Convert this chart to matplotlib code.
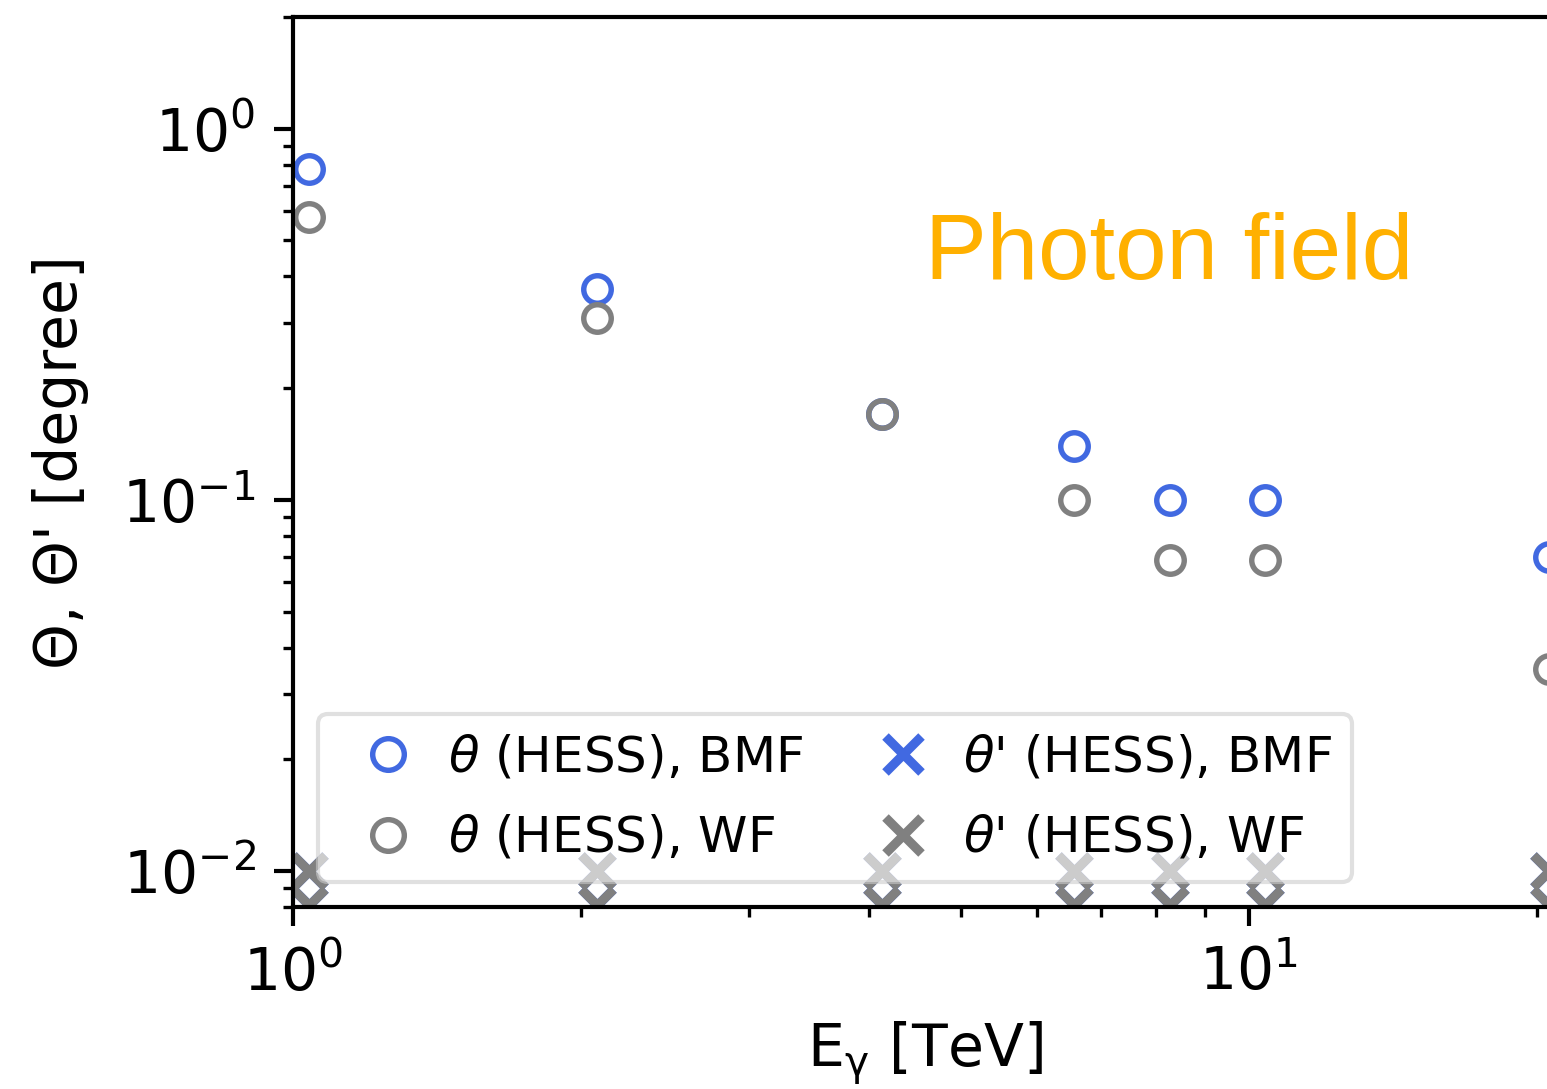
import matplotlib
matplotlib.use("Agg")
import matplotlib.pyplot as plt

# photon energies (TeV)
energy = [1.04, 2.08, 4.13, 6.56, 8.27, 10.4, 20.6]

# opening angles (degree)
theta_bmf = [0.78, 0.37, 0.17, 0.14, 0.10, 0.10, 0.070]
theta_wf = [0.58, 0.31, 0.17, 0.10, 0.069, 0.069, 0.035]

# primed angles, mostly below the plotted range
thetap_bmf = [0.010, 0.010, 0.010, 0.010, 0.010, 0.010, 0.010]
thetap_wf = [0.010, 0.010, 0.010, 0.010, 0.010, 0.010, 0.010]
thetap_bmf_low = [0.0081, 0.0081, 0.0081, 0.0081, 0.0081, 0.0081, 0.0081]
thetap_wf_low = [0.0081, 0.0081, 0.0081, 0.0081, 0.0081, 0.0081, 0.0081]

BLUE = "royalblue"
GRAY = "gray"

fig = plt.figure(figsize=(1547 / 300, 1089 / 300), dpi=300)
ax = fig.add_axes([293 / 1547, 182 / 1089, 1264 / 1547, 890 / 1089])

circ = dict(ls="none", marker="o", mfc="none", ms=6.6, mew=1.3)
cross = dict(ls="none", marker="x", ms=7.5, mew=2.2)

ax.plot(energy, theta_bmf, color=BLUE, label=r"$\theta$ (HESS), BMF", **circ)
ax.plot(energy, theta_wf, color=GRAY, label=r"$\theta$ (HESS), WF", **circ)
ax.plot(energy, thetap_bmf, color=BLUE, label=r"$\theta$' (HESS), BMF", **cross)
ax.plot(energy, thetap_bmf_low, color=BLUE, **cross)
ax.plot(energy, thetap_wf, color=GRAY, label=r"$\theta$' (HESS), WF", **cross)
ax.plot(energy, thetap_wf_low, color=GRAY, **cross)

ax.set_xscale("log")
ax.set_yscale("log")
ax.set_xlim(1, 21)
ax.set_ylim(0.008, 2)

for s in ax.spines.values():
    s.set_linewidth(1.0)
ax.tick_params(which="major", length=4.5, width=1.0, labelsize=14, pad=4.5)
ax.tick_params(which="minor", length=2.5, width=0.8)

ax.set_xlabel(r"E$_{\mathrm{\gamma}}$ [TeV]", fontsize=14, labelpad=4)
ax.set_ylabel("Θ, Θ' [degree]", fontsize=14, labelpad=8)

handles, labels = ax.get_legend_handles_labels()
ax.legend(handles, labels, loc="lower left", ncol=2, fontsize=12,
          markerscale=1.15, handlelength=2.0, handletextpad=0.2,
          columnspacing=1.0, labelspacing=0.65, framealpha=0.6)

fig.text(925 / 1547, 1 - 279 / 1089, "Photon field", color="#FFB000",
         fontsize=22.2, family="Liberation Sans", va="baseline")

fig.savefig("out.png", dpi=300)
